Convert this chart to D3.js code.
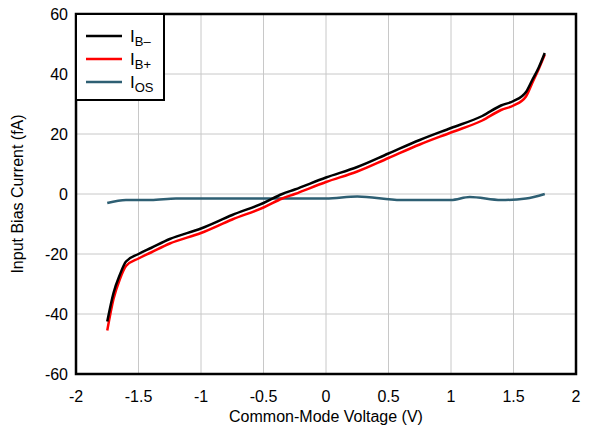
<!DOCTYPE html>
<html><head><meta charset="utf-8">
<script src="https://cdn.jsdelivr.net/npm/d3@7"></script>
<style>body{margin:0;background:#fff}text{font-family:Arial,"Liberation Sans",sans-serif;fill:#000}</style>
</head><body><svg id="c" width="592" height="434"></svg>
<script>
var vcm = [-1.75,-1.7,-1.65,-1.6,-1.5,-1.4,-1.25,-1,-0.75,-0.5,-0.35,-0.25,0,0.25,0.5,0.75,1,1.25,1.4,1.5,1.6,1.65,1.7,1.75];
var ibMinus = [-42.5,-33,-27,-22.5,-20,-18,-15,-11.5,-7,-3,0,1.5,5.5,9,13.5,18,22,26,29.5,31,34,38,42,47];
var ibPlus = [-45.5,-35,-28.5,-24,-21.5,-19.5,-16.5,-13,-8.5,-4.5,-1.5,0,4,7.5,12,16.5,20.5,24.5,28,29.5,32.5,37,41.5,46.5];
var iosV = [-1.75,-1.6,-1.4,-1.2,-1,-0.5,0,0.25,0.6,1.0,1.15,1.4,1.6,1.75];
var ios = [-3,-2,-2,-1.5,-1.5,-1.5,-1.5,-0.8,-2,-2,-1,-2,-1.5,0];
var xTicks = [-2,-1.5,-1,-0.5,0,0.5,1,1.5,2];
var yTicks = [-60,-40,-20,0,20,40,60];

var svg = d3.select("#c");
var x = d3.scaleLinear().domain([-2,2]).range([76,576]);
var y = d3.scaleLinear().domain([-60,60]).range([374,14]);

svg.append("g").selectAll("line").data(xTicks).enter().append("line")
  .attr("x1", d => x(d)).attr("x2", d => x(d)).attr("y1", 14).attr("y2", 374)
  .attr("stroke", "#c8c8c8").attr("stroke-width", 1);
svg.append("g").selectAll("line").data(yTicks).enter().append("line")
  .attr("y1", d => y(d)).attr("y2", d => y(d)).attr("x1", 76).attr("x2", 576)
  .attr("stroke", "#c8c8c8").attr("stroke-width", 1);

svg.append("g").selectAll("text").data(xTicks).enter().append("text")
  .attr("x", d => x(d)).attr("y", 402).attr("text-anchor", "middle").attr("font-size", 16).text(d => d);
svg.append("g").selectAll("text").data(yTicks).enter().append("text")
  .attr("x", 68).attr("y", d => y(d) + 6).attr("text-anchor", "end").attr("font-size", 16).text(d => d);

svg.append("text").attr("x", 326).attr("y", 422).attr("text-anchor", "middle").attr("font-size", 16).text("Common-Mode Voltage (V)");
svg.append("text").attr("transform", "translate(23,194) rotate(-90)").attr("text-anchor", "middle").attr("font-size", 16).text("Input Bias Current (fA)");

var line = d3.line().curve(d3.curveMonotoneX).x(d => x(d[0])).y(d => y(d[1]));
function draw(xs, ys, col) {
  svg.append("path").datum(d3.zip(xs, ys)).attr("d", line)
    .attr("fill", "none").attr("stroke", col).attr("stroke-width", 2.5);
}
draw(iosV, ios, "#2e5f73");
draw(vcm, ibPlus, "#ff0000");
draw(vcm, ibMinus, "#000000");

svg.append("rect").attr("x", 76).attr("y", 14).attr("width", 500).attr("height", 360)
  .attr("fill", "none").attr("stroke", "#000").attr("stroke-width", 2.5);

// legend
var leg = svg.append("g");
leg.append("rect").attr("x", 76).attr("y", 14).attr("width", 88).attr("height", 86)
  .attr("fill", "#fff").attr("stroke", "#000").attr("stroke-width", 2);
var items = [["B\u2013", "#000000"], ["B+", "#ff0000"], ["OS", "#2e5f73"]];
items.forEach(function(it, i) {
  var yy = 36 + i * 23;
  leg.append("line").attr("x1", 86).attr("x2", 122).attr("y1", yy).attr("y2", yy)
    .attr("stroke", it[1]).attr("stroke-width", 2.5);
  var t = leg.append("text").attr("x", 130).attr("y", yy + 6).attr("font-size", 17);
  t.append("tspan").text("I");
  t.append("tspan").attr("font-size", 13).attr("dy", 4).text(it[0]);
});
</script></body></html>
